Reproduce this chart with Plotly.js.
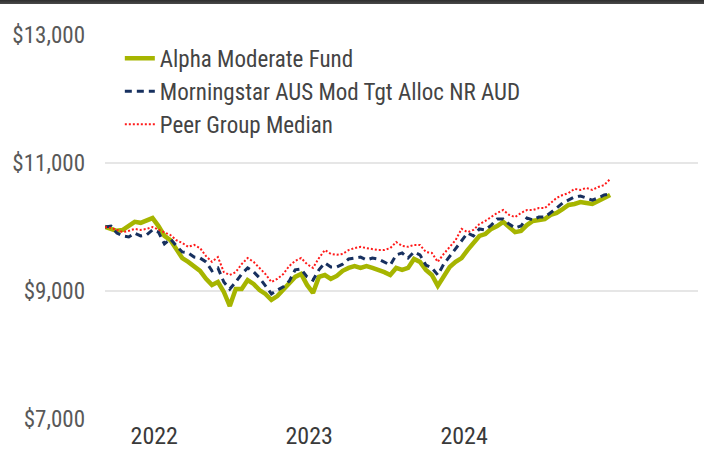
<!DOCTYPE html>
<html>
<head>
<meta charset="utf-8">
<script src="https://cdn.plot.ly/plotly-3.0.1.min.js"></script>
<style>
  html, body { margin: 0; padding: 0; background: #ffffff; }
  #wrap { position: relative; width: 704px; height: 449px; overflow: hidden; }
  #topbar { position: absolute; left: 0; top: 0; width: 704px; height: 4px;
            background: linear-gradient(#2e2e2e, #4a4a4a); z-index: 5; }
  #chart { position: absolute; left: 0; top: 0; width: 704px; height: 449px; }
</style>
</head>
<body>
<div id="wrap">
  <div id="topbar"></div>
  <div id="chart"></div>
</div>
<script>
// ---- Data (growth of $10,000) ----
const dates = [
  "2021-09-07","2021-09-21","2021-10-05","2021-10-19","2021-11-02","2021-11-16","2021-11-30","2021-12-14","2021-12-28",
  "2022-01-11","2022-01-25","2022-02-08","2022-02-22","2022-03-08","2022-03-22","2022-04-05","2022-04-19","2022-05-03",
  "2022-05-17","2022-05-31","2022-06-14","2022-06-28","2022-07-12","2022-07-26","2022-08-09","2022-08-23","2022-09-06",
  "2022-09-20","2022-10-04","2022-10-18","2022-11-01","2022-11-15","2022-11-29","2022-12-13","2022-12-27",
  "2023-01-10","2023-01-24","2023-02-07","2023-02-21","2023-03-07","2023-03-21","2023-04-04","2023-04-18","2023-05-02",
  "2023-05-16","2023-05-30","2023-06-13","2023-06-27","2023-07-11","2023-07-25","2023-08-08","2023-08-22","2023-09-05",
  "2023-09-19","2023-10-03","2023-10-17","2023-10-31","2023-11-14","2023-11-28","2023-12-12","2023-12-26",
  "2024-01-09","2024-01-23","2024-02-06","2024-02-20","2024-03-05","2024-03-19","2024-04-02","2024-04-16","2024-04-30",
  "2024-05-14","2024-05-28","2024-06-11","2024-06-25","2024-07-09","2024-07-23","2024-08-06","2024-08-20","2024-09-03",
  "2024-09-17","2024-10-01","2024-10-15","2024-10-29","2024-11-12","2024-11-26","2024-12-10"
];

const fundName = "Alpha Moderate Fund";
const benchName = "Morningstar AUS Mod Tgt Alloc NR AUD";
const peerName = "Peer Group Median";

const fundValues = [
  10000, 9970, 9940, 9955, 10015, 10080, 10065, 10095, 10140,
  10015, 9860, 9795, 9655, 9515, 9455, 9390, 9315, 9190,
  9095, 9140, 8985, 8765, 9030, 9030, 9170, 9110, 9015,
  8955, 8860, 8920, 9015, 9110, 9220, 9265, 9095,
  8970, 9220, 9250, 9190, 9235, 9315, 9360, 9390, 9360,
  9390, 9360, 9330, 9295, 9250, 9360, 9330, 9360, 9500,
  9455, 9330, 9250, 9080, 9235, 9375, 9455, 9515,
  9640, 9750, 9860, 9890, 9970, 10015, 10080, 10000, 9920,
  9940, 10030, 10095, 10110, 10125, 10190, 10220, 10280, 10345,
  10360, 10390, 10375, 10360, 10405, 10455, 10500
];

const benchValues = [
  10000, 10015, 9905, 9860, 9845, 9905, 9860, 9875, 9955,
  9920, 9735, 9815, 9705, 9610, 9595, 9530, 9515, 9455,
  9315, 9360, 9140, 9030, 9140, 9265, 9360, 9300, 9205,
  9080, 8955, 9015, 9065, 9155, 9330, 9345, 9220,
  9170, 9330, 9440, 9375, 9375, 9420, 9500, 9515, 9530,
  9485, 9515, 9500, 9455, 9405, 9565, 9595, 9515, 9610,
  9565, 9405, 9360, 9250, 9420, 9545, 9655, 9795,
  9905, 9860, 9970, 9955, 10030, 10125, 10125, 10045, 9985,
  10015, 10140, 10110, 10155, 10155, 10220, 10295, 10375, 10420,
  10470, 10485, 10455, 10420, 10455, 10500, 10515
];

const peerValues = [
  10000, 9985, 9955, 9920, 9940, 9970, 9955, 9970, 10000,
  9955, 9920, 9875, 9795, 9750, 9690, 9720, 9670, 9545,
  9455, 9530, 9295, 9250, 9295, 9420, 9515, 9455, 9360,
  9265, 9140, 9190, 9265, 9390, 9470, 9515, 9420,
  9360, 9515, 9640, 9580, 9565, 9580, 9640, 9670, 9690,
  9670, 9655, 9640, 9640, 9670, 9765, 9705, 9690, 9720,
  9720, 9610, 9595, 9455, 9580, 9690, 9795, 9970,
  9920, 9955, 10045, 10095, 10155, 10220, 10265, 10190, 10155,
  10220, 10265, 10265, 10295, 10295, 10375, 10455, 10500, 10530,
  10595, 10580, 10610, 10580, 10625, 10655, 10750
];

const yTickVals = [7000, 9000, 11000, 13000];
const yTickText = ["$7,000", "$9,000", "$11,000", "$13,000"];
const xTickVals = ["2022-01-01", "2023-01-01", "2024-01-01"];
const xTickText = ["2022", "2023", "2024"];

// ---- Styling ----
const FONT = 'Roboto Condensed, "Liberation Sans Narrow", "DejaVu Sans Condensed", Roboto, sans-serif';

const traces = [
  {
    x: dates, y: fundValues, name: fundName, type: "scatter", mode: "lines",
    line: { color: "#a6b500", width: 4.5 }, legendgroup: "a"
  },
  {
    x: dates, y: benchValues, name: benchName, type: "scatter", mode: "lines",
    line: { color: "#17305f", width: 3, dash: "7px,5px" }, legendgroup: "b"
  },
  {
    x: dates, y: peerValues, name: peerName, type: "scatter", mode: "lines",
    line: { color: "#ff1a1a", width: 2, dash: "2px,2px" }, legendgroup: "c"
  }
];

const layout = {
  width: 704, height: 449,
  margin: { l: 105, r: 6, t: 35, b: 30, pad: 0 },
  paper_bgcolor: "#ffffff", plot_bgcolor: "#ffffff",
  font: { family: FONT, size: 22, color: "#444444" },
  showlegend: true,
  legend: {
    x: 0.025, y: 0.995, xanchor: "left", yanchor: "top",
    bgcolor: "rgba(0,0,0,0)", font: { family: FONT, size: 23, color: "#444444" },
    traceorder: "grouped", tracegroupgap: 0, itemwidth: 30
  },
  xaxis: {
    type: "date",
    range: ["2021-09-07", "2025-07-05"],
    tickvals: xTickVals, ticktext: xTickText,
    showgrid: false, zeroline: false, showline: false, ticks: "",
    tickfont: { family: FONT, size: 24, color: "#3a3a3a" }
  },
  yaxis: {
    range: [7000, 13000],
    tickvals: yTickVals, ticktext: yTickText,
    showgrid: true, gridcolor: "#e6e6e6", gridwidth: 2,
    zeroline: false, showline: false, ticks: "",
    ticklabelstandoff: 19,
    tickfont: { family: FONT, size: 23, color: "#595959" }
  }
};

Plotly.newPlot("chart", traces, layout, { staticPlot: true, displayModeBar: false });
</script>
</body>
</html>
